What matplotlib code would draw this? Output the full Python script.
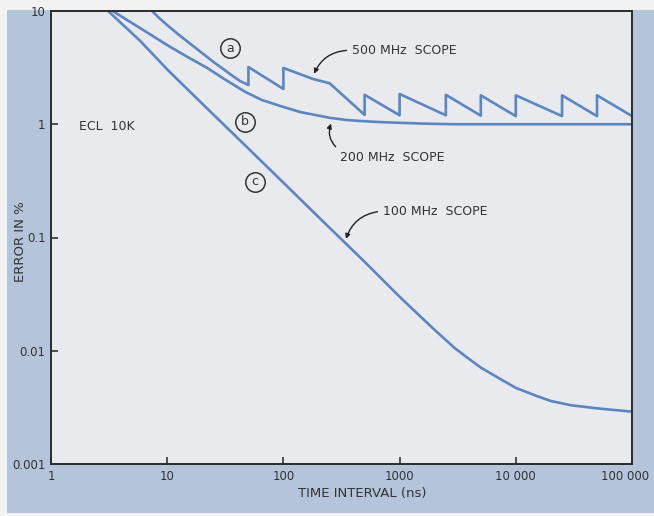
import matplotlib
matplotlib.use("Agg")
import matplotlib.pyplot as plt
from matplotlib.patches import Rectangle
from matplotlib.transforms import ScaledTranslation

# === DONNÉES ===
# courbe (c) : oscilloscope 100 MHz
temps_c = [3.1, 5.8, 10, 20, 50, 100, 200, 500, 1000, 1500, 2000, 3000, 4000, 5000,
           7000, 10000, 15000, 20000, 30000, 50000, 70000, 100000]
erreur_c = [10, 5.5, 3.05, 1.52, 0.61, 0.305, 0.152, 0.061, 0.030, 0.0202, 0.0153,
            0.0105, 0.0084, 0.0071, 0.0058, 0.0047, 0.0040, 0.0036, 0.0033, 0.0031,
            0.0030, 0.0029]

# courbe (b) : oscilloscope 200 MHz
temps_b = [3.4, 4, 5.8, 7, 10, 15, 22, 30, 47, 65, 94, 140, 190, 250, 350, 450, 650,
           1000, 1500, 2000, 3000, 100000]
erreur_b = [10, 9.0, 7.1, 6.3, 5.0, 3.92, 3.15, 2.56, 1.93, 1.64, 1.45, 1.28, 1.205,
            1.14, 1.09, 1.07, 1.047, 1.03, 1.015, 1.008, 1.0, 1.0]

# courbe (a) : oscilloscope 500 MHz (dents de scie aux changements de calibre)
temps_a = [7.4, 8.5, 10, 12.5, 15, 20, 25, 30, 35, 42, 50, 50, 100, 100, 180, 250,
           500, 500, 1000, 1000, 2500, 2500, 5000, 5000, 10000, 10000, 25000, 25000,
           50000, 50000, 100000]
erreur_a = [10, 8.7, 7.5, 6.2, 5.35, 4.25, 3.55, 3.1, 2.76, 2.42, 2.22, 3.2, 2.05, 3.14,
            2.51, 2.3, 1.21, 1.82, 1.2, 1.85, 1.2, 1.82, 1.19, 1.8, 1.18, 1.8, 1.18, 1.8,
            1.18, 1.8, 1.18]

ticks_x = [1, 10, 100, 1000, 10000, 100000]
labels_x = ["1", "10", "100", "1000", "10 000", "100 000"]
ticks_y = [0.001, 0.01, 0.1, 1, 10]
labels_y = ["0.001", "0.01", "0.1", "1", "10"]

# === STYLE ===
bleu = "#5b86c1"
fond = "#b4c4da"
zone = "#e8eaee"
encre = "#333333"
plt.rcParams["font.family"] = ["DejaVu Sans"]

fig = plt.figure(figsize=(6.54, 5.16), dpi=100, facecolor="#f2f2f2")
fig.patches.append(Rectangle((7 / 654, 3 / 516), 1, (513 - 10) / 516,
                             transform=fig.transFigure, facecolor=fond,
                             edgecolor="none", zorder=-10))
ax = fig.add_axes([51 / 654, 52 / 516, 581 / 654, 453 / 516])
ax.set_facecolor(zone)
ax.set_xscale("log")
ax.set_yscale("log")
ax.set_xlim(1, 100000)
ax.set_ylim(0.001, 10)

ax.plot(temps_c, erreur_c, color=bleu, lw=1.9)
ax.plot(temps_b, erreur_b, color=bleu, lw=1.9)
ax.plot(temps_a, erreur_a, color=bleu, lw=1.9)

# axes et graduations
ax.set_xticks(ticks_x)
ax.set_xticklabels(labels_x)
ax.set_yticks(ticks_y)
ax.set_yticklabels(labels_y)
ax.minorticks_off()
ax.tick_params(direction="in", length=5, width=1.2, colors=encre,
               labelsize=8.5, pad=4)
# le dernier libellé (100 000) est un peu décalé vers la gauche pour rester dans l'image
dernier = ax.get_xticklabels()[-1]
dernier.set_transform(dernier.get_transform()
                      + ScaledTranslation(-0.07, 0, fig.dpi_scale_trans))
for s in ax.spines.values():
    s.set_color("#2a2a2a")
    s.set_linewidth(1.4)

# lettres entourées
for lettre, xx, yy in [("a", 35, 4.7), ("b", 47, 1.05), ("c", 57, 0.31)]:
    ax.plot(xx, yy, marker="o", ms=14, mfc="none", mec=encre, mew=1.1)
    ax.text(xx, yy, lettre, ha="center", va="center", fontsize=9, color=encre)

ax.text(1.75, 0.95, "ECL  10K", ha="left", va="center", fontsize=9, color=encre)

# annotations avec flèches courbes
fleche = dict(arrowstyle="-|>", color="#222222", lw=1.0, mutation_scale=7)
ax.annotate("500 MHz  SCOPE", xy=(180, 2.65), xytext=(390, 4.5),
            ha="left", va="center", fontsize=9, color=encre,
            arrowprops=dict(fleche, connectionstyle="arc3,rad=0.35", relpos=(0, 0.5)))
ax.annotate("200 MHz  SCOPE", xy=(262, 1.07), xytext=(310, 0.51),
            ha="left", va="center", fontsize=9, color=encre,
            arrowprops=dict(fleche, connectionstyle="arc3,rad=-0.4", relpos=(0, 1)))
ax.annotate("100 MHz  SCOPE", xy=(340, 0.092), xytext=(720, 0.171),
            ha="left", va="center", fontsize=9, color=encre,
            arrowprops=dict(fleche, connectionstyle="arc3,rad=0.35", relpos=(0, 0.5)))

fig.text(362 / 654, 1 - 494 / 516, "TIME INTERVAL (ns)", ha="center", va="center",
         fontsize=9.5, color=encre)
fig.text(21 / 654, 1 - 242 / 516, "ERROR IN %", ha="center", va="center",
         rotation=90, fontsize=9.5, color=encre)

fig.savefig("out.png", dpi=100, facecolor=fig.get_facecolor())
plt.close(fig)
